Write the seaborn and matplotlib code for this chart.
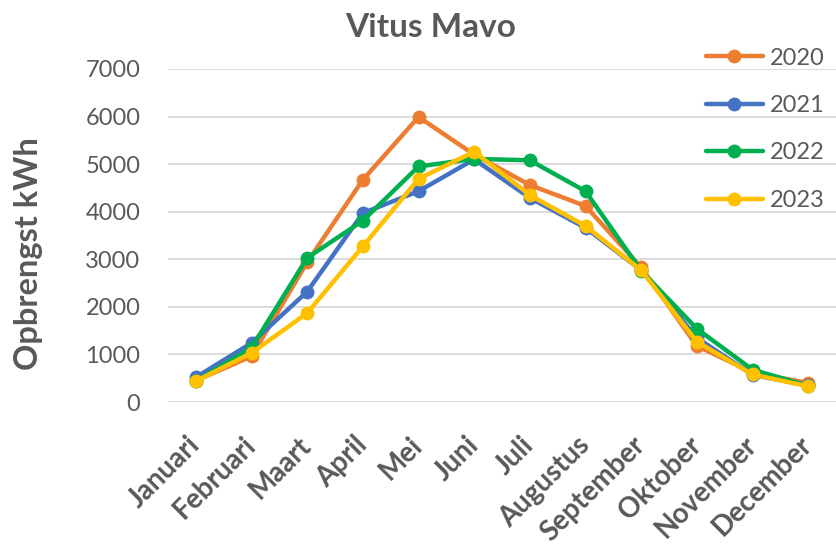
import numpy as np
import pandas as pd
import matplotlib.pyplot as plt
import seaborn as sns

maanden = ['Januari', 'Februari', 'Maart', 'April', 'Mei', 'Juni', 'Juli',
           'Augustus', 'September', 'Oktober', 'November', 'December']
jaren = ['2020', '2021', '2022', '2023']
v2020 = [450, 960, 2940, 4670, 5990, 5200, 4560, 4120, 2830, 1180, 620, 400]
v2021 = [520, 1240, 2320, 3970, 4430, 5100, 4290, 3660, 2770, 1350, 570, 350]
v2022 = [440, 1140, 3030, 3810, 4950, 5110, 5080, 4430, 2760, 1540, 680, 340]
v2023 = [440, 1030, 1870, 3270, 4690, 5260, 4350, 3700, 2770, 1270, 580, 330]
kleuren = ['#ED7D31', '#4472C4', '#00B050', '#FFC000']

df = pd.DataFrame({
    'Maand': maanden * 4,
    'Jaar': np.repeat(jaren, 12),
    'kWh': v2020 + v2021 + v2022 + v2023,
})

sns.set_style('white')
plt.rcParams['font.family'] = ['Lato', 'DejaVu Sans']
grijs = '#595959'

fig = plt.figure(figsize=(8.36, 5.47), dpi=100)
ax = fig.add_axes([0.201, 0.265, 0.799, 0.609])

for jaar, kleur in zip(jaren, kleuren):
    sub = df[df['Jaar'] == jaar]
    sns.lineplot(data=sub, x='Maand', y='kWh', color=kleur, marker='o',
                 markersize=10, markeredgewidth=0, linewidth=3.2,
                 label=jaar, ax=ax, sort=False)

ax.set_ylim(0, 7000)
ax.set_xlim(-0.5, 11.5)
ax.set_yticks(range(0, 7001, 1000))
ax.grid(axis='y', color='#d9d9d9', linewidth=1.3)
ax.set_axisbelow(True)
for s in ax.spines.values():
    s.set_visible(False)
ax.tick_params(axis='both', length=0)
ax.tick_params(axis='y', labelsize=17, labelcolor=grijs, pad=20)
ax.set_xticks(range(12))
ax.set_xticklabels(maanden, rotation=45, ha='right', va='center',
                   rotation_mode='anchor', fontsize=20, fontweight='bold',
                   color=grijs)
ax.tick_params(axis='x', pad=28)
ax.set_xlabel('')
ax.set_ylabel('Opbrengst kWh', fontsize=23.5, fontweight='bold', color=grijs)
ax.yaxis.set_label_coords(-0.187, 0.447)
fig.text(0.515, 0.95, 'Vitus Mavo', ha='center', va='center',
         fontsize=24, fontweight='bold', color=grijs)

ax.legend_.remove()
h, l = ax.get_legend_handles_labels()
leg = fig.legend(h, l, loc='upper right', bbox_to_anchor=(1.012, 0.952),
                 frameon=False, fontsize=17, handlelength=2.4,
                 labelspacing=1.12, handletextpad=0.3)
for t in leg.get_texts():
    t.set_color(grijs)

fig.savefig('out.png', dpi=100)
